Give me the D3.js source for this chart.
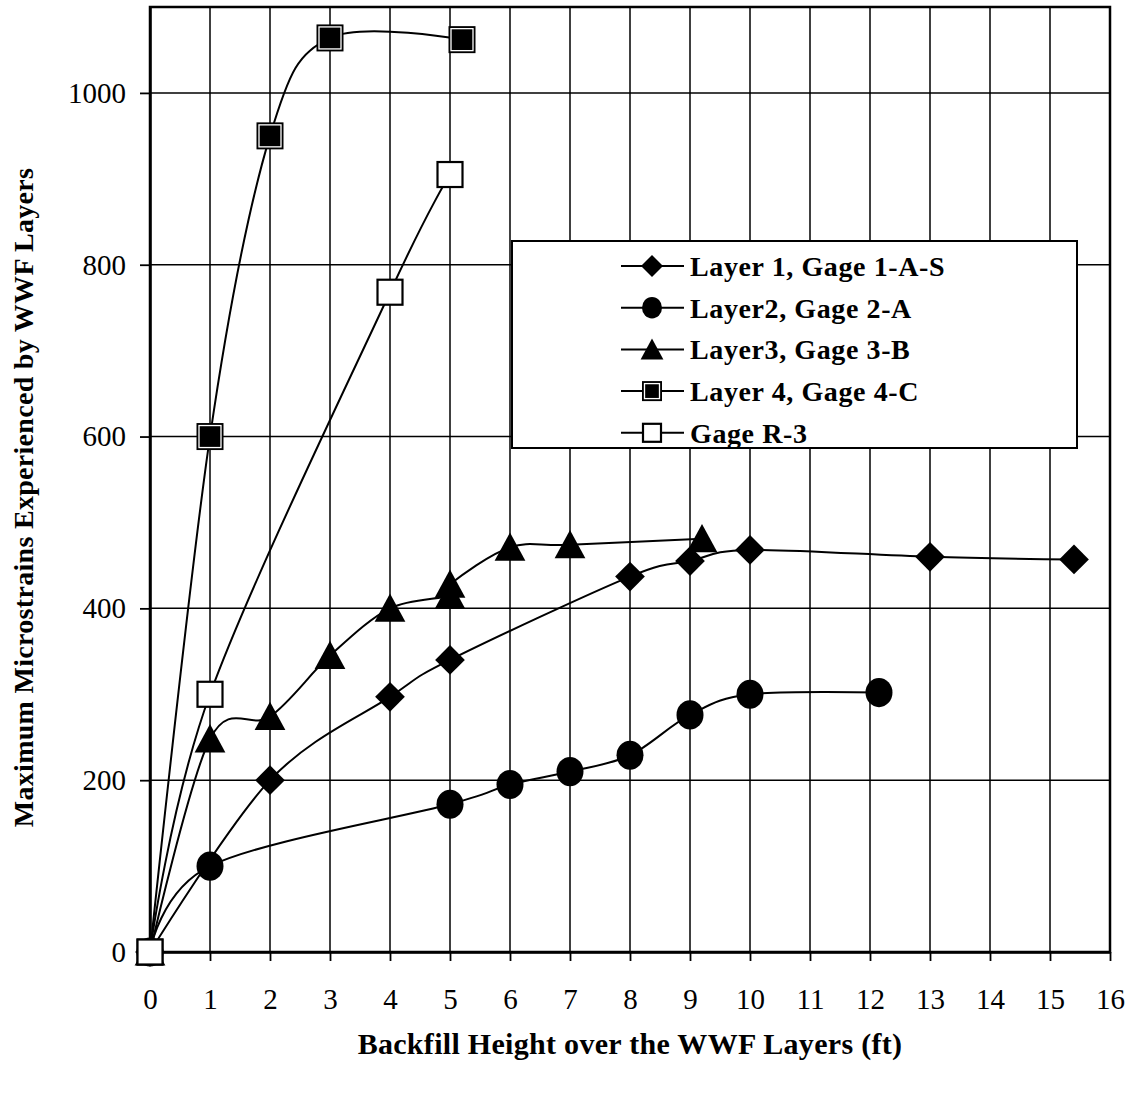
<!DOCTYPE html>
<html>
<head>
<meta charset="utf-8">
<script src="https://cdn.jsdelivr.net/npm/d3@7"></script>
<style>
  body { margin: 0; background: #fff; }
  svg { font-family: 'Liberation Serif', 'Times New Roman', serif; }
</style>
</head>
<body>
<div id="chart"></div>
<script>
// series data: [x (ft), microstrain]
const layer1 = [[0, 0], [2, 200], [4, 297], [5, 340], [8, 437], [9, 455], [10, 468], [13, 460], [15.4, 457]];
const layer2 = [[0, 0], [1, 100], [5, 172], [6, 195], [7, 210], [8, 229], [9, 276], [10, 300], [12.15, 302]];
const layer3 = [[0, 0], [1, 248], [2, 274], [3, 345], [4, 400], [5, 415], [5, 428], [6, 471], [7, 474], [9.2, 481]];
const layer4 = [[0, 0], [1, 600], [2, 950], [3, 1064], [5.2, 1062]];
const gageR3 = [[0, 0], [1, 300], [4, 768], [5, 905]];

const seriesNames = ['Layer 1, Gage 1-A-S', 'Layer2, Gage 2-A', 'Layer3, Gage 3-B', 'Layer 4, Gage 4-C', 'Gage R-3'];
const seriesSymbols = ['diamond', 'circle', 'triangle', 'squareFilled', 'squareOpen'];
const xTicks = d3.range(0, 17);
const yTicks = [0, 200, 400, 600, 800, 1000];

const width = 1128, height = 1099;
const margin = { top: 7, right: 18, bottom: 147, left: 150 };
const innerW = width - margin.left - margin.right;
const innerH = height - margin.top - margin.bottom;

const svg = d3.select('#chart').append('svg')
  .attr('width', width)
  .attr('height', height);

const g = svg.append('g')
  .attr('transform', `translate(${margin.left}, ${margin.top})`);

const x = d3.scaleLinear().domain([0, 16]).range([0, innerW]);
const y = d3.scaleLinear().domain([0, 1100]).range([innerH, 0]);

// grid
g.append('g').selectAll('line')
  .data(xTicks.slice(1))
  .join('line')
  .attr('x1', d => x(d)).attr('x2', d => x(d))
  .attr('y1', 0).attr('y2', innerH)
  .attr('stroke', '#000').attr('stroke-width', 1.5);

g.append('g').selectAll('line')
  .data(yTicks.slice(1))
  .join('line')
  .attr('x1', 0).attr('x2', innerW)
  .attr('y1', d => y(d)).attr('y2', d => y(d))
  .attr('stroke', '#000').attr('stroke-width', 1.5);

// frame
g.append('rect')
  .attr('width', innerW).attr('height', innerH)
  .attr('fill', 'none').attr('stroke', '#000').attr('stroke-width', 2.5);

// axes
const xAxis = g.append('g')
  .attr('transform', `translate(0, ${innerH})`)
  .call(d3.axisBottom(x).tickValues(xTicks).tickFormat(d3.format('d'))
    .tickSize(9).tickPadding(27).tickSizeOuter(0));
const yAxis = g.append('g')
  .call(d3.axisLeft(y).tickValues(yTicks).tickFormat(d3.format('d'))
    .tickSize(10).tickPadding(14).tickSizeOuter(0));
[xAxis, yAxis].forEach(a => {
  a.attr('font-size', null).attr('font-family', null);
  a.select('.domain').attr('stroke-width', 2.5);
  a.selectAll('.tick line').attr('stroke-width', 1.8);
  a.selectAll('.tick text').attr('fill', '#000').style('font-size', '29px');
});
xAxis.selectAll('.tick text').attr('dy', '0.71em');

// lines
const line = d3.line()
  .x(d => x(d[0]))
  .y(d => y(d[1]))
  .curve(d3.curveCardinal.tension(0));

const allSeries = [layer1, layer2, layer3, layer4, gageR3];

g.append('g').selectAll('path')
  .data(allSeries)
  .join('path')
  .attr('d', line)
  .attr('fill', 'none')
  .attr('stroke', '#000')
  .attr('stroke-width', 2);

function drawSymbol(sel, kind, cx, cy, s) {
  if (kind === 'diamond') {
    const r = s * 0.55;
    sel.append('path')
      .attr('d', `M${cx},${cy - r}L${cx + r},${cy}L${cx},${cy + r}L${cx - r},${cy}Z`)
      .attr('fill', '#000');
  } else if (kind === 'circle') {
    sel.append('ellipse')
      .attr('cx', cx).attr('cy', cy)
      .attr('rx', s * 0.5).attr('ry', s * 0.54)
      .attr('fill', '#000');
  } else if (kind === 'triangle') {
    sel.append('path')
      .attr('d', `M${cx},${cy - s * 0.55}L${cx + s * 0.57},${cy + s * 0.5}L${cx - s * 0.57},${cy + s * 0.5}Z`)
      .attr('fill', '#000');
  } else if (kind === 'squareFilled') {
    sel.append('rect')
      .attr('x', cx - s / 2).attr('y', cy - s / 2)
      .attr('width', s).attr('height', s)
      .attr('fill', '#000');
    sel.append('rect')
      .attr('x', cx - s / 2 + 2.5).attr('y', cy - s / 2 + 2.5)
      .attr('width', s - 5).attr('height', s - 5)
      .attr('fill', 'none').attr('stroke', '#fff').attr('stroke-width', 1.3);
  } else {
    sel.append('rect')
      .attr('x', cx - s / 2 + 1).attr('y', cy - s / 2 + 1)
      .attr('width', s - 2).attr('height', s - 2)
      .attr('fill', '#fff').attr('stroke', '#000').attr('stroke-width', 2.2);
  }
}

// markers
allSeries.forEach((data, i) => {
  const mg = g.append('g');
  data.forEach(d => drawSymbol(mg, seriesSymbols[i], x(d[0]), y(d[1]), 27));
});

// legend
const legend = svg.append('g').attr('transform', 'translate(512, 241)');
legend.append('rect')
  .attr('width', 565).attr('height', 207)
  .attr('fill', '#fff').attr('stroke', '#000').attr('stroke-width', 2);

seriesNames.forEach((name, i) => {
  const ry = 25 + i * 41.7;
  const row = legend.append('g');
  row.append('line')
    .attr('x1', 109).attr('x2', 172)
    .attr('y1', ry).attr('y2', ry)
    .attr('stroke', '#000').attr('stroke-width', 2);
  drawSymbol(row, seriesSymbols[i], 140, ry, 20);
  row.append('text')
    .attr('x', 178).attr('y', ry)
    .attr('dy', '0.35em')
    .style('font-size', '28px')
    .style('font-weight', 'bold')
    .style('letter-spacing', '0.6px')
    .text(name);
});

// axis titles
svg.append('text')
  .attr('x', 630)
  .attr('y', 1054)
  .attr('text-anchor', 'middle')
  .style('font-size', '30px')
  .style('font-weight', 'bold')
  .style('letter-spacing', '0.3px')
  .text('Backfill Height over the WWF Layers (ft)');

svg.append('text')
  .attr('transform', `translate(33, ${margin.top + innerH / 2 + 18}) rotate(-90)`)
  .attr('text-anchor', 'middle')
  .style('font-size', '28px')
  .style('font-weight', 'bold')
  .style('letter-spacing', '0.3px')
  .text('Maximum  Microstrains Experienced by WWF Layers');
</script>
</body>
</html>
